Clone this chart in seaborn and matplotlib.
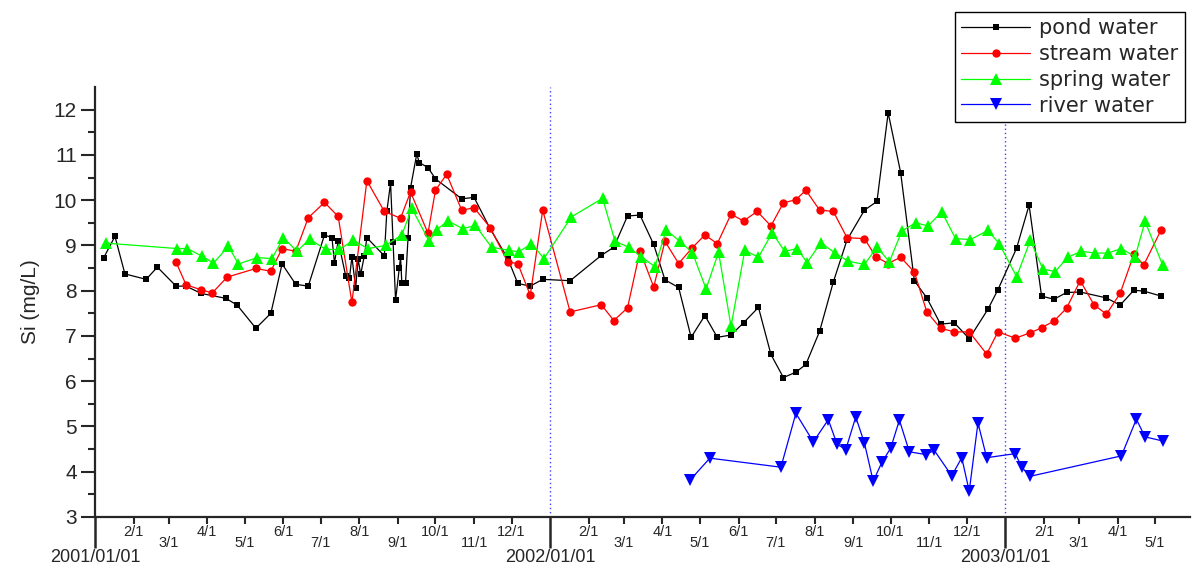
import numpy as np
import pandas as pd
import matplotlib
matplotlib.use("Agg")
import matplotlib.pyplot as plt
import seaborn as sns

# =============================================================================
# DATA  (sampling day counted from 2001-01-01, Si in mg/L)
# =============================================================================
pond_day = [7, 16, 24, 41, 50, 65, 73, 85, 105, 114, 129, 141, 150, 161, 171,
            184, 190, 192, 195, 201, 204, 206, 209, 211, 213, 216, 218, 232,
            234, 237, 239, 241, 244, 245, 246, 249, 251, 253, 258, 260, 267,
            273, 294, 304, 317, 331, 339, 349, 359, 381, 406, 416, 427, 437,
            448, 457, 468, 478, 489, 499, 510, 520, 532, 542, 552, 562, 570,
            581, 592, 603, 617, 627, 636, 646, 657, 667, 678, 689, 701, 716,
            724, 739, 749, 759, 769, 779, 790, 811, 822, 833, 841, 855]
pond_si = [8.73, 9.20, 8.37, 8.25, 8.52, 8.10, 8.10, 7.94, 7.83, 7.68, 7.17,
           7.50, 8.59, 8.14, 8.10, 9.23, 9.17, 8.62, 9.10, 8.33, 8.27, 8.75,
           8.06, 8.70, 8.36, 8.77, 9.17, 8.77, 9.75, 10.38, 9.08, 7.79, 8.50,
           8.75, 8.18, 8.18, 9.17, 10.27, 11.02, 10.83, 10.72, 10.47, 10.03,
           10.06, 9.36, 8.71, 8.16, 8.10, 8.25, 8.22, 8.78, 8.96, 9.65, 9.67,
           9.02, 8.24, 8.07, 6.97, 7.45, 6.97, 7.02, 7.29, 7.63, 6.59, 6.08,
           6.20, 6.37, 7.10, 8.19, 9.12, 9.78, 9.97, 11.93, 10.61, 8.22, 7.84,
           7.26, 7.29, 6.94, 7.59, 8.02, 8.94, 9.89, 7.88, 7.81, 7.96, 7.97,
           7.84, 7.68, 8.01, 7.99, 7.88]

stream_day = [65, 73, 85, 94, 106, 129, 141, 150, 161, 171, 184, 195, 206,
              218, 232, 245, 253, 267, 273, 282, 294, 304, 317, 331, 339, 349,
              359, 381, 406, 416, 427, 437, 448, 457, 468, 479, 489, 499, 510,
              520, 531, 542, 552, 562, 570, 581, 592, 603, 617, 626, 636, 646,
              657, 667, 678, 689, 701, 715, 724, 738, 750, 759, 769, 779, 790,
              801, 811, 822, 833, 841, 855]
stream_si = [8.63, 8.13, 8.02, 7.95, 8.30, 8.49, 8.43, 8.93, 8.87, 9.61, 9.95,
             9.64, 7.74, 10.43, 9.75, 9.60, 10.18, 9.27, 10.22, 10.57, 9.78,
             9.83, 9.39, 8.63, 8.60, 7.90, 9.78, 7.53, 7.69, 7.34, 7.62, 8.88,
             8.08, 9.09, 8.60, 8.95, 9.23, 9.04, 9.69, 9.54, 9.75, 9.43, 9.94,
             10.01, 10.22, 9.78, 9.75, 9.17, 9.15, 8.75, 8.60, 8.74, 8.41,
             7.53, 7.17, 7.09, 7.09, 6.60, 7.09, 6.95, 7.07, 7.18, 7.33, 7.61,
             8.22, 7.69, 7.48, 7.94, 8.80, 8.57, 9.35]

spring_day = [9, 66, 74, 86, 95, 107, 115, 130, 142, 151, 162, 172, 185, 196,
              207, 219, 233, 246, 254, 268, 274, 283, 295, 305, 318, 332, 340,
              350, 360, 382, 407, 417, 428, 438, 449, 458, 469, 479, 490, 500,
              510, 521, 532, 543, 553, 563, 571, 582, 593, 604, 617, 627, 637,
              647, 658, 668, 679, 690, 702, 716, 725, 739, 750, 760, 770, 780,
              791, 802, 812, 823, 834, 842, 856]
spring_si = [9.05, 8.93, 8.93, 8.76, 8.61, 8.98, 8.59, 8.73, 8.71, 9.17, 8.87,
             9.14, 8.91, 8.91, 9.11, 8.93, 9.00, 9.23, 9.82, 9.09, 9.35, 9.54,
             9.37, 9.44, 8.96, 8.89, 8.86, 9.04, 8.71, 9.63, 10.04, 9.09, 8.96,
             8.75, 8.53, 9.34, 9.09, 8.84, 8.04, 8.85, 7.21, 8.89, 8.74, 9.28,
             8.87, 8.93, 8.62, 9.06, 8.84, 8.65, 8.58, 8.96, 8.64, 9.32, 9.50,
             9.43, 9.74, 9.15, 9.13, 9.33, 9.04, 8.31, 9.11, 8.48, 8.42, 8.74,
             8.87, 8.83, 8.83, 8.93, 8.75, 9.53, 8.57]

river_day = [477, 493, 550, 562, 576, 588, 595, 602, 610, 617, 624, 631, 638,
             645, 653, 666, 673, 687, 695, 701, 708, 715, 738, 743, 750, 823,
             835, 842, 856]
river_si = [3.81, 4.30, 4.10, 5.29, 4.66, 5.15, 4.61, 4.49, 5.21, 4.63, 3.79,
            4.21, 4.52, 5.14, 4.44, 4.38, 4.47, 3.91, 4.31, 3.57, 5.08, 4.31,
            4.40, 4.10, 3.90, 4.35, 5.16, 4.77, 4.68]

series_names = ["pond water", "stream water", "spring water", "river water"]
year_labels = ["2001/01/01", "2002/01/01", "2003/01/01"]

# =============================================================================
# BUILD TABLE
# =============================================================================
start = pd.Timestamp("2001-01-01")
frames = []
for name, days, si in zip(series_names,
                          [pond_day, stream_day, spring_day, river_day],
                          [pond_si, stream_si, spring_si, river_si]):
    frames.append(pd.DataFrame({
        "date": start + pd.to_timedelta(days, unit="D"),
        "si": si,
        "type": name,
    }))
df = pd.concat(frames, ignore_index=True)

# =============================================================================
# PLOT
# =============================================================================
sns.set_style("ticks")
plt.rcParams["font.family"] = ["Liberation Sans", "DejaVu Sans"]

fig = plt.figure(figsize=(11.92, 5.67), dpi=100)
ax = fig.add_axes([0.0797, 0.0882, 0.9186, 0.7584])

styles = {
    "pond water":   dict(color="#000000", marker="s", markersize=5),
    "stream water": dict(color="#ff0000", marker="o", markersize=6),
    "spring water": dict(color="#00ff00", marker="^", markersize=9),
    "river water":  dict(color="#0000ff", marker="v", markersize=9),
}
for name in series_names:
    st = styles[name]
    sns.lineplot(data=df[df["type"] == name], x="date", y="si", ax=ax,
                 color=st["color"], marker=st["marker"],
                 markersize=st["markersize"], markeredgewidth=0,
                 linewidth=0.9, estimator=None, label=name)

# year separators
for yl in year_labels[1:]:
    ax.axvline(pd.Timestamp(yl.replace("/", "-")), color="#4040ff",
               linestyle=(0, (1, 2)), linewidth=1, zorder=0)

# ------ axes ------
ax.set_ylim(3, 12.5)
ax.set_xlim(start, pd.Timestamp("2003-05-29"))
ax.set_yticks(np.arange(3, 13, 1))
ax.set_yticks(np.arange(3.5, 12.5, 1), minor=True)
ax.set_ylabel("Si (mg/L)", fontsize=15, labelpad=10)
ax.set_xlabel("")

years = [pd.Timestamp(y.replace("/", "-")) for y in year_labels]
months = [d for d in pd.date_range(start, "2003-05-01", freq="MS")
          if d.month != 1]
ax.set_xticks(years)
ax.set_xticklabels(year_labels, fontsize=13)
ax.set_xticks(months, minor=True)
ax.set_xticklabels([f"{d.month}/1" for d in months], minor=True, fontsize=10.5)

for sp in ["top", "right"]:
    ax.spines[sp].set_visible(False)
for sp in ["left", "bottom"]:
    ax.spines[sp].set_linewidth(1.6)

ax.tick_params(axis="y", which="major", length=10, width=1.5,
               labelsize=15, direction="out", pad=3)
ax.tick_params(axis="y", which="minor", length=5, width=1.5, direction="out")
ax.tick_params(axis="x", which="major", length=22, width=1.8,
               direction="out", pad=1)
ax.tick_params(axis="x", which="minor", length=5, width=1.5, direction="out")

# alternate the month label heights
for tick, d in zip(ax.xaxis.get_minor_ticks(), months):
    tick.set_pad(0.5 if d.month % 2 == 0 else 9)

# ------ legend ------
leg = ax.legend(loc="upper right", bbox_to_anchor=(0.994, 0.979),
                bbox_transform=fig.transFigure,
                prop={"family": ["DejaVu Sans"], "size": 15},
                frameon=True, fancybox=False, edgecolor="black",
                framealpha=1, handlelength=3.3, handletextpad=0.45,
                labelspacing=0.28, borderpad=0.3, borderaxespad=0)
leg.get_frame().set_linewidth(1.0)

fig.savefig("out.png", dpi=100)
plt.close(fig)
